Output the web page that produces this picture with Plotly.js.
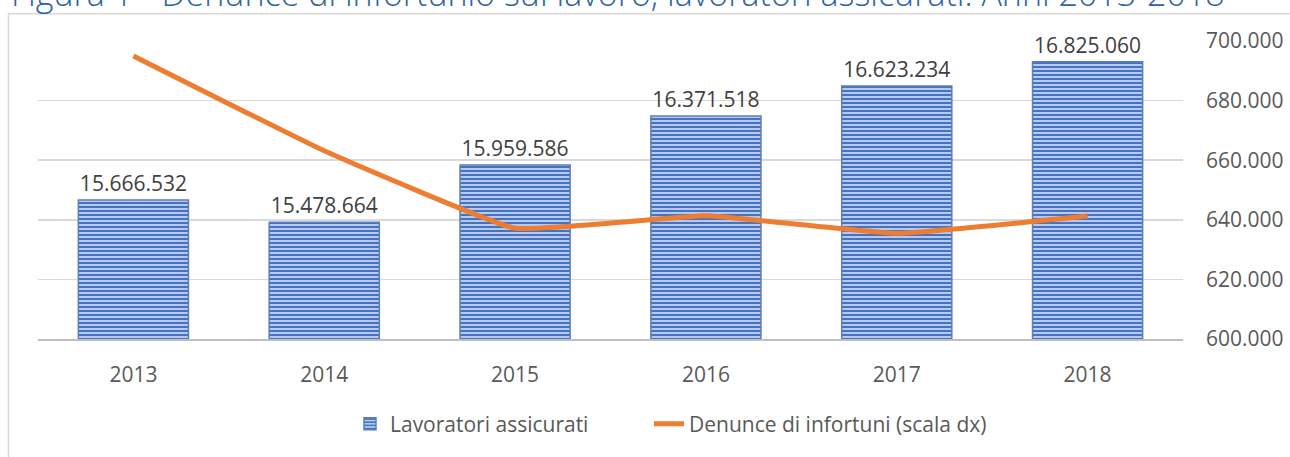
<!DOCTYPE html>
<html>
<head>
<meta charset="utf-8">
<script src="https://cdn.plot.ly/plotly-3.0.1.min.js"></script>
<style>
html,body{margin:0;padding:0;background:#fff;}
#chart{width:1290px;height:457px;}
</style>
</head>
<body>
<div id="chart"></div>
<script>
const years = ['2013','2014','2015','2016','2017','2018'];
const lavoratori = [15666532, 15478664, 15959586, 16371518, 16623234, 16825060];
const denunce = [695000, 663150, 637150, 641350, 635450, 641250];
const rightTicks = [600000, 620000, 640000, 660000, 680000, 700000];
const titleText = 'Figura 1 - Denunce di infortunio sul lavoro, lavoratori assicurati. Anni 2013-2018';

const FONT = 'Open Sans, Noto Sans, sans-serif';
const L = 38, R = 1183, T = 41, B = 342, W = 1290, H = 457;
const pw = R - L, ph = B - T;
const px = v => (v - L) / pw;
const py = v => (B - v) / ph;

const bars = {
  type: 'bar', name: 'Lavoratori assicurati', legend: 'legend',
  x: years, y: lavoratori, yaxis: 'y',
  width: 0.577,
  marker: {
    color: '#C5D3EE',
    pattern: {shape: '-', fgcolor: '#4472C4', bgcolor: '#C5D3EE', size: 4, solidity: 0.55, fillmode: 'replace'},
    line: {color: '#5D7DB8', width: 1.5}
  },
  texttemplate: '%{y:,d}',
  textposition: 'outside',
  cliponaxis: false,
  textfont: {family: FONT, size: 21, color: '#404040'},
  hoverinfo: 'x+y'
};

const line = {
  type: 'scatter', mode: 'lines', name: 'Denunce di infortuni (scala dx)', legend: 'legend2',
  x: years, y: denunce, yaxis: 'y2',
  line: {color: '#ED7D31', width: 5, shape: 'spline', smoothing: 0.3},
  cliponaxis: false
};

const legendBase = {
  orientation: 'h', xanchor: 'left', y: py(428), yanchor: 'middle',
  font: {family: FONT, size: 21, color: '#595959'}, itemwidth: 30, bgcolor: 'rgba(0,0,0,0)'
};

const layout = {
  width: W, height: H,
  margin: {l: L, r: W - R, t: T, b: H - B, pad: 0},
  paper_bgcolor: '#fff', plot_bgcolor: 'rgba(0,0,0,0)',
  separators: ',.',
  font: {family: FONT, size: 21, color: '#595959'},
  showlegend: true,
  legend: Object.assign({}, legendBase, {x: px(350)}),
  legend2: Object.assign({}, legendBase, {x: px(649)}),
  xaxis: {
    type: 'category', showgrid: false, showline: true, linecolor: '#BFBFBF', linewidth: 2,
    ticks: '', ticklabelstandoff: 16, tickfont: {size: 21, color: '#595959'}, fixedrange: true
  },
  yaxis: {range: [14500000, 17000000], visible: false, showgrid: false, fixedrange: true},
  yaxis2: {
    overlaying: 'y', side: 'right', range: [600000, 700000],
    tickvals: rightTicks, tickformat: ',d', showgrid: true, gridcolor: '#D9D9D9', gridwidth: 1.5,
    zeroline: false, showline: false, ticks: '', ticklabelstandoff: 22,
    tickfont: {size: 21, color: '#595959'}, fixedrange: true
  },
  shapes: [{
    type: 'rect', xref: 'paper', yref: 'paper', layer: 'below',
    x0: px(8.5), x1: px(1300), y0: py(470), y1: py(13.5),
    line: {color: '#D9D9D9', width: 1.5}, fillcolor: 'rgba(0,0,0,0)'
  }],
  annotations: [{
    text: titleText, xref: 'paper', yref: 'paper', x: px(9), xanchor: 'left',
    y: py(18), yanchor: 'bottom', showarrow: false,
    font: {family: FONT, size: 34, color: '#2E62A4', weight: 300}
  }]
};

Plotly.newPlot('chart', [bars, line], layout, {displayModeBar: false, staticPlot: true});
</script>
</body>
</html>
